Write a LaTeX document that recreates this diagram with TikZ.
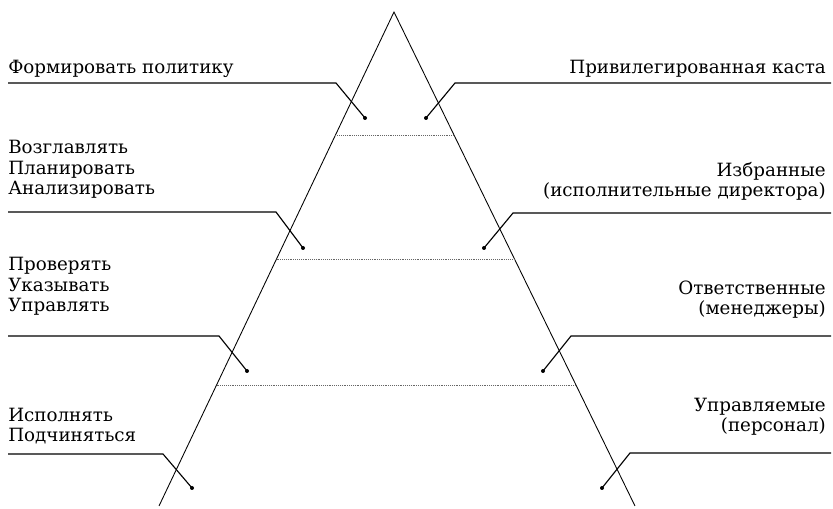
\documentclass[tikz,border=0pt]{standalone}
\usepackage{fontspec}
\setmainfont{DejaVu Serif}
\usetikzlibrary{calc}
\tikzset{
  lbl/.style={inner sep=0pt, font=\fontsize{13.7}{15.4}\selectfont, align=left},
  rlbl/.style={lbl, align=right},
  side/.style={line width=0.65pt},
  leader/.style={line width=0.85pt},
  level/.style={densely dotted, line width=0.4pt, black!60},
  tip/.style={circle, fill, inner sep=0pt, minimum size=3pt}
}
\begin{document}
\begin{tikzpicture}[x=0.75pt,y=-0.75pt]
\useasboundingbox (0,0) rectangle (833,509);
% pyramid
\coordinate (apex) at (394,12);
\coordinate (bl) at (159,506);
\coordinate (br) at (635,506);
\draw[side] (bl) -- (apex) -- (br);
\foreach \t/\n in {0.249/1,0.5/2,0.755/3}{
  \coordinate (lv\n-l) at ($(apex)!\t!(bl)$);
  \coordinate (lv\n-r) at ($(apex)!\t!(br)$);
  \draw[level] (lv\n-l) -- (lv\n-r);
}
\coordinate (le) at (8,0);
\coordinate (re) at (831,0);
% left side
\node[lbl, anchor=base west] (pol) at (8,74) {Формировать политику};
\node[lbl, anchor=base west] (plan) at (8,195) {Возглавлять\\Планировать\\Анализировать};
\node[lbl, anchor=base west] (upr) at (8,312) {Проверять\\Указывать\\Управлять};
\node[lbl, anchor=base west] (isp) at (8,442) {Исполнять\\Подчиняться};
% right side
\node[rlbl, anchor=base east] (kasta) at (826,74) {Привилегированная каста};
\node[rlbl, anchor=base east] (dir) at (826,197) {Избранные\\(исполнительные директора)};
\node[rlbl, anchor=base east] (men) at (826,315) {Ответственные\\(менеджеры)};
\node[rlbl, anchor=base east] (pers) at (826,432) {Управляемые\\(персонал)};
% leaders
\foreach \a/\y/\bx/\dx/\dy in {pol/83/336/365/118, plan/212/276/303/248, upr/336/219/247/371, isp/454/163/192/488}{
  \coordinate (\a-b) at (\bx,\y);
  \node[tip] (\a-d) at (\dx,\dy) {};
  \draw[leader] (\a-b -| le) -- (\a-b) -- (\a-d.center);
}
\foreach \a/\y/\bx/\dx/\dy in {kasta/83/455/426/118, dir/213/513/484/248, men/336/571/543/371, pers/453/630/602/488}{
  \coordinate (\a-b) at (\bx,\y);
  \node[tip] (\a-d) at (\dx,\dy) {};
  \draw[leader] (\a-b -| re) -- (\a-b) -- (\a-d.center);
}
\end{tikzpicture}
\end{document}
